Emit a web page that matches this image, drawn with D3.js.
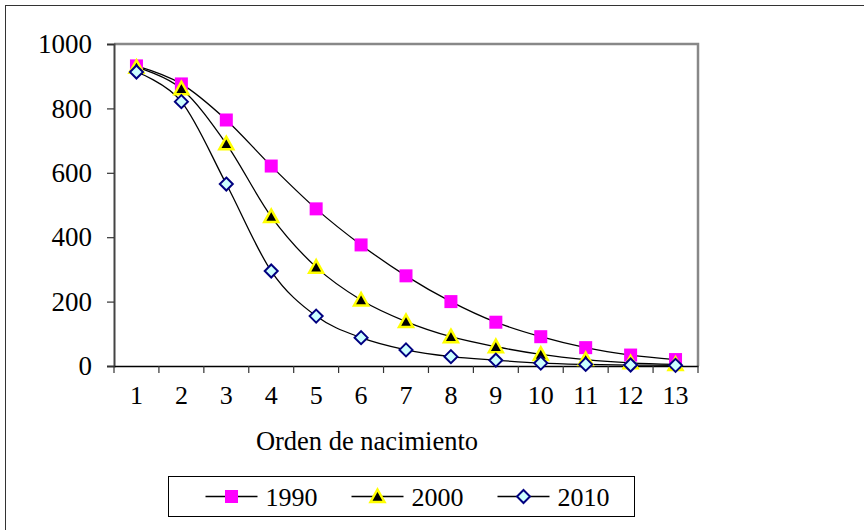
<!DOCTYPE html>
<html>
<head>
<meta charset="utf-8">
<script src="https://cdn.jsdelivr.net/npm/d3@7"></script>
<style>
  body { margin: 0; background: #fff; }
  svg { display: block; }
  svg text { font-family: "Liberation Serif", "Times New Roman", "DejaVu Serif", serif; }
</style>
</head>
<body>
<svg id="chart" width="864" height="530"></svg>
<script>
// Data
const orden = ["1", "2", "3", "4", "5", "6", "7", "8", "9", "10", "11", "12", "13"];
const v1990 = [932, 876, 764, 621, 488, 376, 280, 200, 136, 91, 57, 34, 20];
const v2000 = [928, 861, 690, 464, 307, 205, 138, 91, 60, 36, 20, 10, 5];
const v2010 = [913, 821, 565, 295, 155, 88, 50, 29, 18, 9, 5, 3, 2];
const yTicks = [0, 200, 400, 600, 800, 1000];
const seriesNames = ["1990", "2000", "2010"];

const series = [
  { name: seriesNames[0], values: v1990, marker: "square" },
  { name: seriesNames[1], values: v2000, marker: "triangle" },
  { name: seriesNames[2], values: v2010, marker: "diamond" }
];

const svg = d3.select("#chart");

// Outer chart frame
svg.append("rect")
  .attr("x", 5.5).attr("y", 5.5)
  .attr("width", 870).attr("height", 540)
  .attr("fill", "none")
  .attr("stroke", "#333")
  .attr("stroke-width", 1);

const margin = { top: 44, left: 114 };
const width = 584, height = 322;

const g = svg.append("g")
  .attr("transform", `translate(${margin.left},${margin.top})`);

const x = d3.scaleBand().domain(orden).range([0, width]);
const y = d3.scaleLinear().domain([0, 1000]).range([height, 0]);

// Plot area border (top and right, grey)
g.append("path")
  .attr("d", `M0,0H${width}V${height}`)
  .attr("fill", "none")
  .attr("stroke", "#888")
  .attr("stroke-width", 2.5);

// Y axis
const yAxis = g.append("g")
  .call(d3.axisLeft(y).tickValues(yTicks).tickFormat(d3.format("d")).tickSize(7).tickPadding(15))
  .attr("font-family", null);
yAxis.select(".domain").attr("stroke", "#444").attr("stroke-width", 2);
yAxis.selectAll(".tick line").attr("stroke", "#333").attr("stroke-width", 1.2);
yAxis.selectAll("text").attr("font-size", "27px").attr("fill", "#000");

// X axis, ticks between categories
const xAxis = g.append("g")
  .attr("transform", `translate(0,${height})`)
  .call(d3.axisBottom(x).tickSize(0).tickPadding(20))
  .attr("font-family", null);
xAxis.select(".domain").attr("stroke", "#000").attr("stroke-width", 1.5);
xAxis.selectAll("text").attr("font-size", "26px").attr("fill", "#000");
xAxis.selectAll(".sep")
  .data(d3.range(orden.length + 1))
  .enter().append("line")
  .attr("class", "sep")
  .attr("x1", i => i * x.step()).attr("x2", i => i * x.step())
  .attr("y1", 0).attr("y2", 7)
  .attr("stroke", "#333").attr("stroke-width", 1.2);

// X axis title
g.append("text")
  .attr("x", width / 2 - 39)
  .attr("y", height + 84)
  .attr("text-anchor", "middle")
  .attr("font-size", "26.5px")
  .text("Orden de nacimiento");

// Lines (Excel-style smoothing)
const line = d3.line()
  .x((d, i) => x(orden[i]) + x.bandwidth() / 2)
  .y(d => y(d))
  .curve(d3.curveCardinal.tension(0));

series.forEach(s => {
  g.append("path")
    .datum(s.values)
    .attr("fill", "none")
    .attr("stroke", "#000")
    .attr("stroke-width", 1.3)
    .attr("d", line);
});

// Marker drawing
function drawMarker(sel, type) {
  if (type === "square") {
    sel.append("rect")
      .attr("x", -6.5).attr("y", -6.5).attr("width", 13).attr("height", 13)
      .attr("fill", "#ff00ff");
  } else if (type === "triangle") {
    sel.append("path")
      .attr("d", "M0,-7L7,5.5L-7,5.5Z")
      .attr("fill", "#000")
      .attr("stroke", "#ffff00")
      .attr("stroke-width", 2.5)
      .attr("stroke-linejoin", "miter");
  } else {
    sel.append("path")
      .attr("d", "M0,-6.5L6.5,0L0,6.5L-6.5,0Z")
      .attr("fill", "#ccffff")
      .attr("stroke", "#000080")
      .attr("stroke-width", 2);
  }
}

series.forEach(s => {
  g.selectAll(null)
    .data(s.values)
    .enter().append("g")
    .attr("transform", (d, i) => `translate(${x(orden[i]) + x.bandwidth() / 2},${y(d)})`)
    .each(function () { drawMarker(d3.select(this), s.marker); });
});

// Legend
const legend = svg.append("g").attr("transform", "translate(168.5,476.5)");
legend.append("rect")
  .attr("width", 466).attr("height", 40)
  .attr("fill", "#fff").attr("stroke", "#000").attr("stroke-width", 1);

const legendX = d3.scalePoint().domain(seriesNames).range([37, 329]);
series.forEach(s => {
  const item = legend.append("g").attr("transform", `translate(${legendX(s.name)},20)`);
  item.append("line").attr("x1", 0).attr("x2", 52)
    .attr("stroke", "#000").attr("stroke-width", 1.3);
  const m = item.append("g").attr("transform", "translate(26,0)");
  drawMarker(m, s.marker);
  item.append("text")
    .attr("x", 60).attr("y", 9)
    .attr("font-size", "26px")
    .text(s.name);
});
</script>
</body>
</html>
